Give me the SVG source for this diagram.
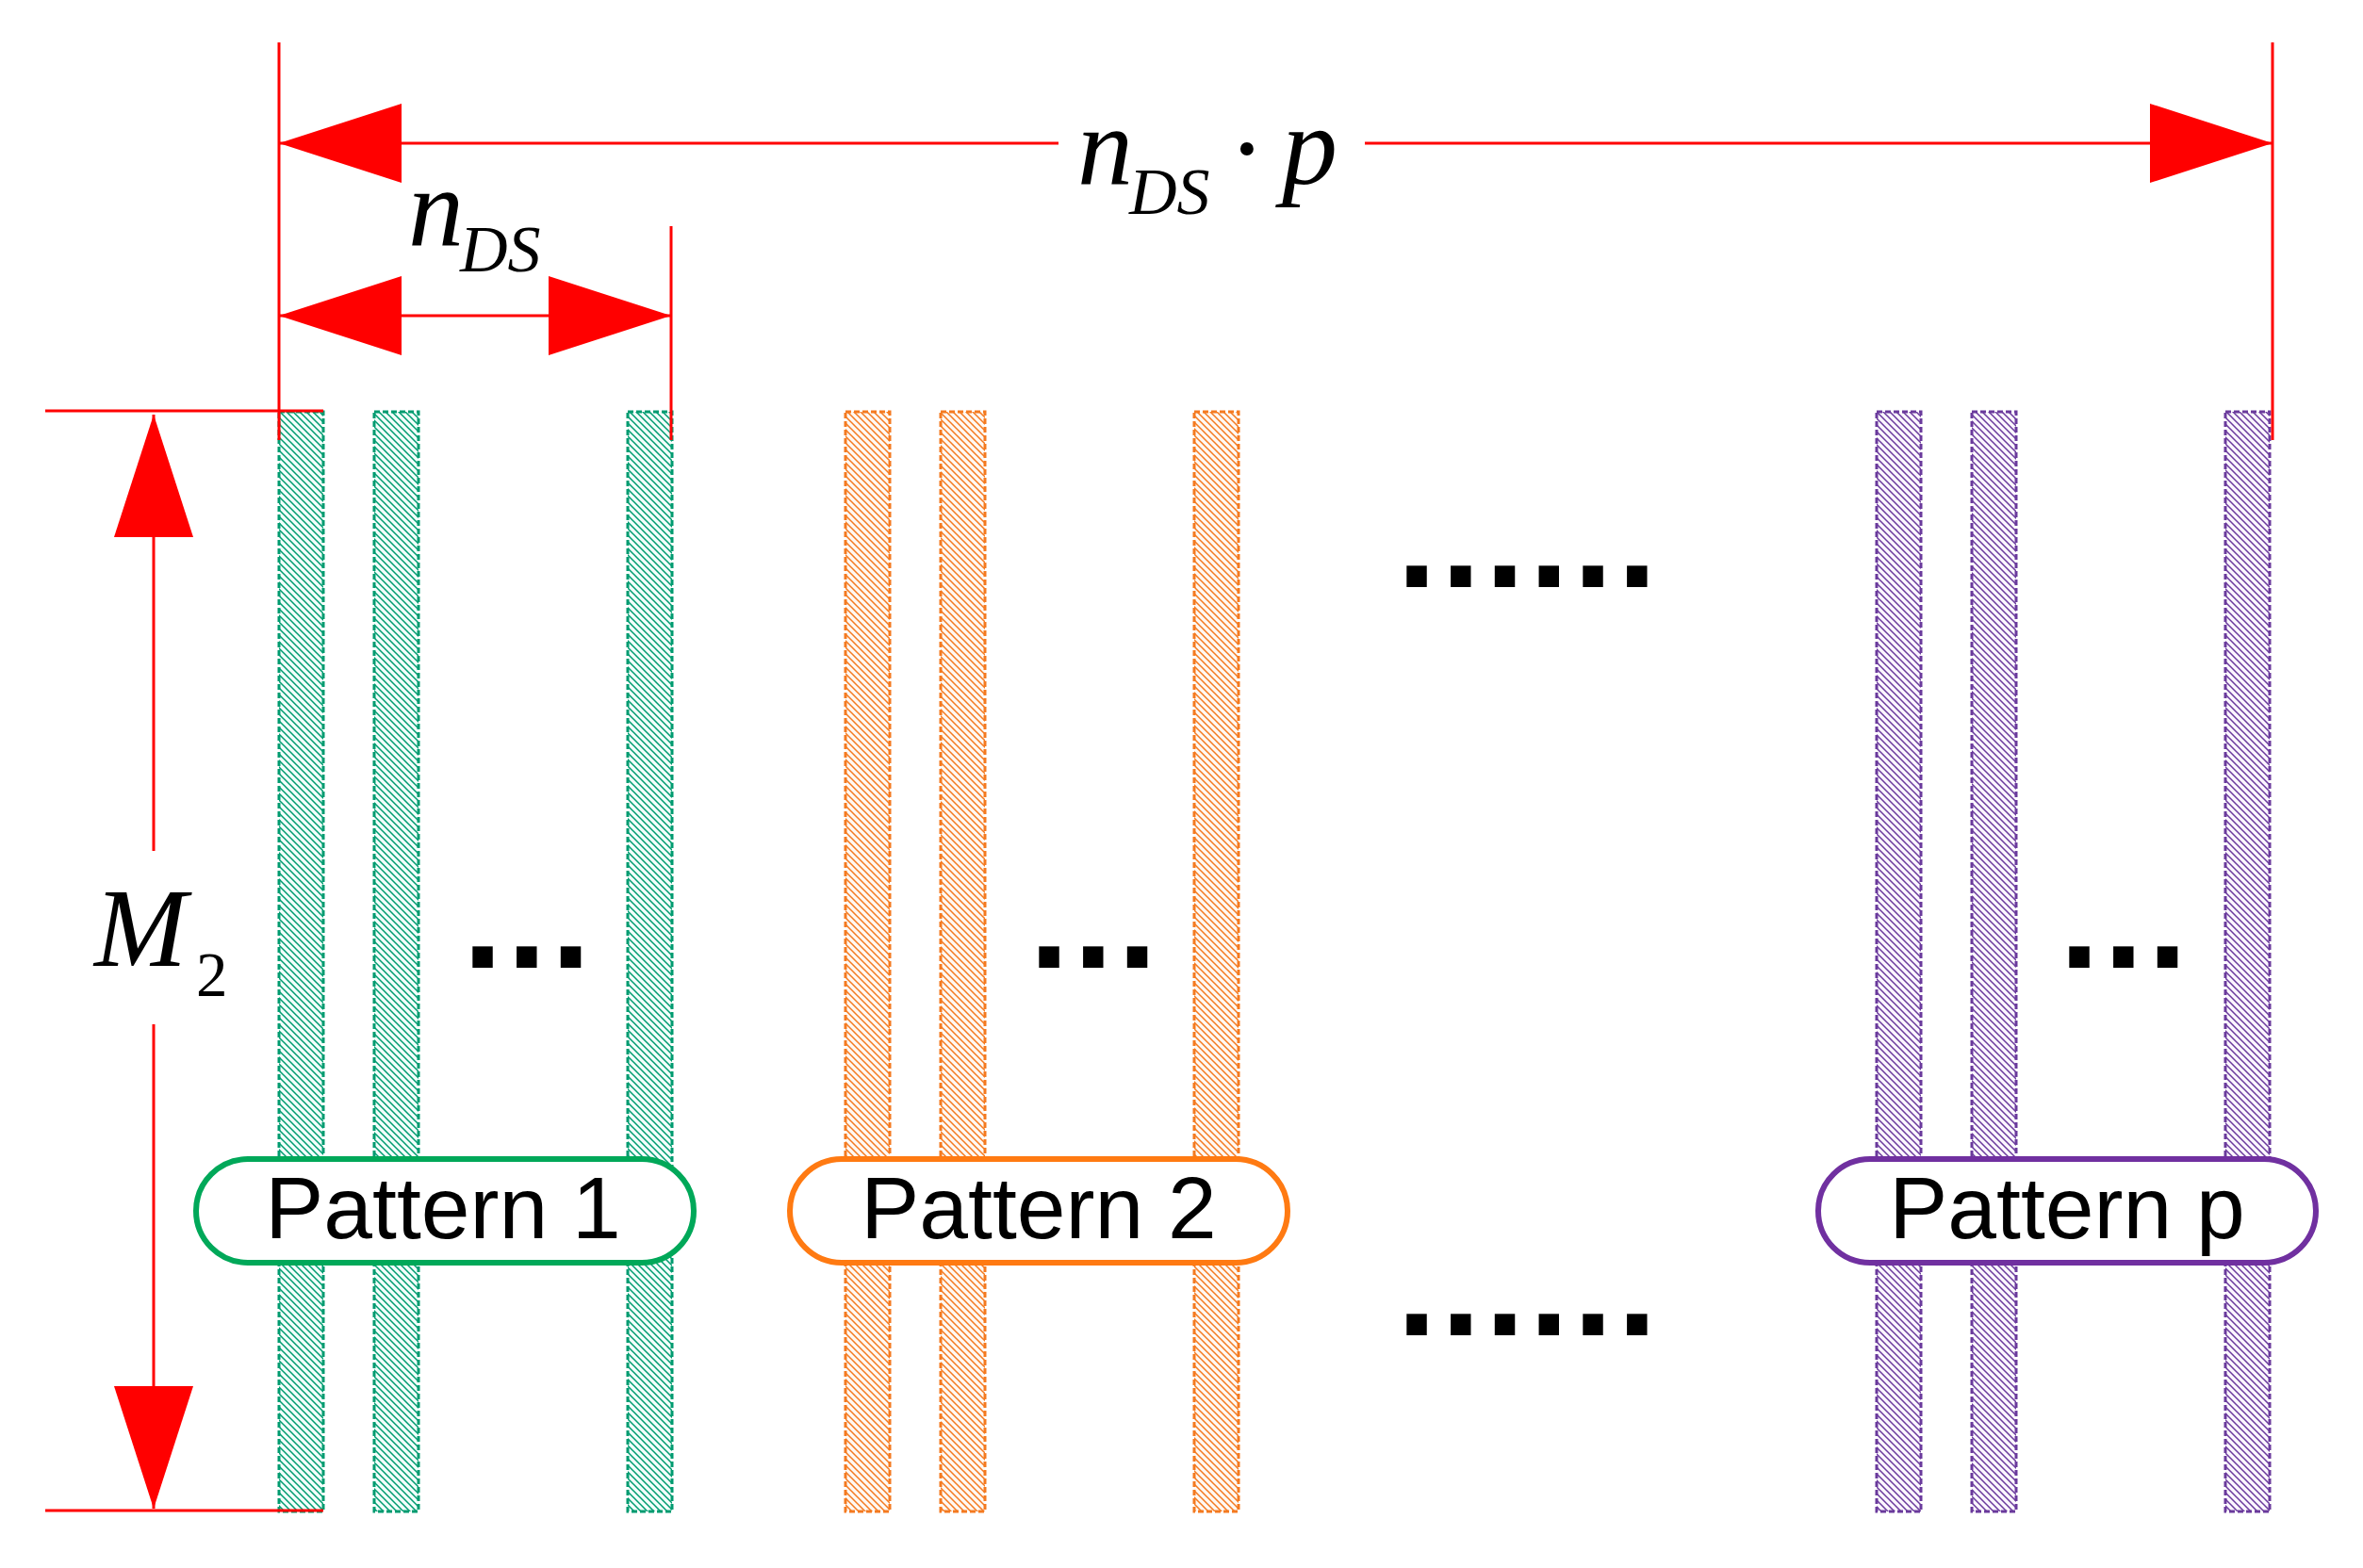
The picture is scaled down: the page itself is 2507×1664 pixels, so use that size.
<svg xmlns="http://www.w3.org/2000/svg" width="2507" height="1664" viewBox="0 0 2507 1664">
<style>
.dim{stroke:#FF0000;stroke-width:3;fill:none}
.bar{stroke-width:3;stroke-dasharray:6 3}
.g{fill:url(#hg);stroke:#009B70}
.o{fill:url(#ho);stroke:#F47A20}
.v{fill:url(#hv);stroke:#6A3A9C}
.box{fill:#FFFFFF;stroke-width:6}
.lbl{font-family:"Liberation Sans",Arial,sans-serif;font-size:93px;fill:#000;text-anchor:middle}
.math{font-family:"Liberation Serif","Times New Roman",serif;fill:#000}
.dots{font-family:"Liberation Sans",Arial,sans-serif;font-weight:bold;font-size:152px;fill:#000;letter-spacing:4.5px}
</style>
<defs>
<pattern id="hg" patternUnits="userSpaceOnUse" width="7" height="7"><rect width="7" height="7" fill="#F2FFFB"/><path d="M-3.5,3.5 L3.5,10.5 M0,0 L7,7 M3.5,-3.5 L10.5,3.5" stroke="#009B70" stroke-width="1.5"/></pattern>
<pattern id="ho" patternUnits="userSpaceOnUse" width="7" height="7"><rect width="7" height="7" fill="#FFF8F2"/><path d="M-3.5,3.5 L3.5,10.5 M0,0 L7,7 M3.5,-3.5 L10.5,3.5" stroke="#F47A20" stroke-width="1.5"/></pattern>
<pattern id="hv" patternUnits="userSpaceOnUse" width="7" height="7"><rect width="7" height="7" fill="#FBF6FF"/><path d="M-3.5,3.5 L3.5,10.5 M0,0 L7,7 M3.5,-3.5 L10.5,3.5" stroke="#6A3A9C" stroke-width="1.5"/></pattern>
<marker id="arr" markerUnits="userSpaceOnUse" markerWidth="132" markerHeight="86" refX="130" refY="42" orient="auto-start-reverse" viewBox="0 0 132 86"><path d="M0,0 L130,42 L0,84 z" fill="#FF0000"/></marker>
</defs>
<rect width="2507" height="1664" fill="#FFFFFF"/>

<g id="pattern1">
<rect class="bar g" x="296" y="437" width="47" height="1167"/>
<rect class="bar g" x="397" y="437" width="47" height="1167"/>
<rect class="bar g" x="666" y="437" width="47" height="1167"/>
<text class="dots" x="491" y="1027">...</text>
<rect class="box" x="208" y="1230" width="528" height="110" rx="55" stroke="#00A859"/>
<text class="lbl" x="470" y="1314">Pattern 1</text>
</g>

<g id="pattern2">
<rect class="bar o" x="897" y="437" width="47" height="1167"/>
<rect class="bar o" x="998" y="437" width="47" height="1167"/>
<rect class="bar o" x="1267" y="437" width="47" height="1167"/>
<text class="dots" x="1092" y="1027">...</text>
<rect class="box" x="838" y="1230" width="528" height="110" rx="55" stroke="#FF7A12"/>
<text class="lbl" x="1102" y="1314">Pattern 2</text>
</g>

<g id="patternp">
<rect class="bar v" x="1991" y="437" width="47" height="1167"/>
<rect class="bar v" x="2092" y="437" width="47" height="1167"/>
<rect class="bar v" x="2361" y="437" width="47" height="1167"/>
<text class="dots" x="2185" y="1027">...</text>
<rect class="box" x="1929" y="1230" width="528" height="110" rx="55" stroke="#7030A0"/>
<text class="lbl" x="2193" y="1314">Pattern p</text>
</g>

<g id="ellipsis">
<text class="dots" x="1482" y="623">......</text>
<text class="dots" x="1482" y="1417">......</text>
</g>

<g id="connectors">
<line class="dim" x1="296" y1="45" x2="296" y2="467"/>
<line class="dim" x1="712" y1="240" x2="712" y2="467"/>
<line class="dim" x1="2411" y1="45" x2="2411" y2="467"/>
<line class="dim" x1="48" y1="436" x2="343" y2="436"/>
<line class="dim" x1="48" y1="1603" x2="343" y2="1603"/>
<path class="dim" d="M296,152 L1123,152" marker-start="url(#arr)"/>
<path class="dim" d="M1448,152 L2411,152" marker-end="url(#arr)"/>
<path class="dim" d="M296,335 L712,335" marker-start="url(#arr)" marker-end="url(#arr)"/>
<path class="dim" d="M163,440 L163,903" marker-start="url(#arr)"/>
<path class="dim" d="M163,1087 L163,1601" marker-end="url(#arr)"/>
</g>

<g id="labels">
<text class="math" font-size="118" font-style="italic" x="1143" y="195">n</text>
<text class="math" font-size="70" font-style="italic" x="1198" y="227">DS</text>
<text class="math" font-size="118" x="1323" y="197" text-anchor="middle">·</text>
<text class="math" font-size="118" font-style="italic" x="1360" y="195">p</text>
<text class="math" font-size="118" font-style="italic" x="433" y="260">n</text>
<text class="math" font-size="70" font-style="italic" x="488" y="288">DS</text>
<text class="math" font-size="118" font-style="italic" x="100" y="1025">M</text>
<text class="math" font-size="67" x="208" y="1057">2</text>
</g>
</svg>
